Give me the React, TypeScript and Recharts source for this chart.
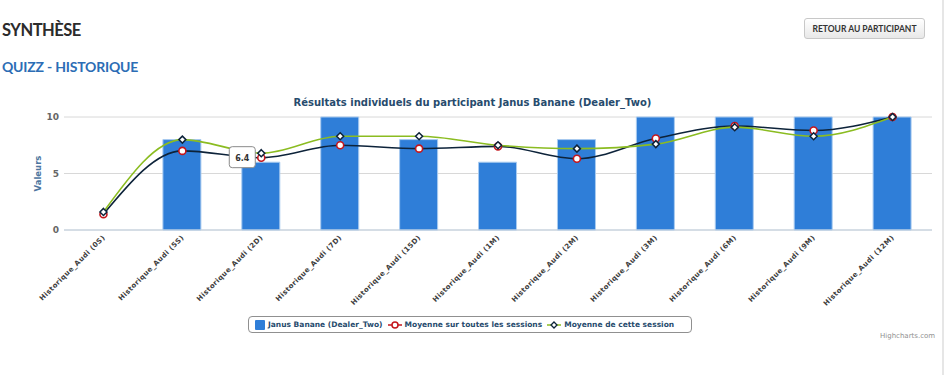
import { ComposedChart, Bar, Line, XAxis, YAxis, CartesianGrid, LabelList } from 'recharts'

const categories = [
  'Historique_Audi (0S)',
  'Historique_Audi (5S)',
  'Historique_Audi (2D)',
  'Historique_Audi (7D)',
  'Historique_Audi (15D)',
  'Historique_Audi (1M)',
  'Historique_Audi (2M)',
  'Historique_Audi (3M)',
  'Historique_Audi (6M)',
  'Historique_Audi (9M)',
  'Historique_Audi (12M)',
]
const participantScores = [0, 8, 6, 10, 8, 6, 8, 10, 10, 10, 10]
const allSessionsAvg = [1.4, 7.0, 6.4, 7.5, 7.2, 7.4, 6.3, 8.1, 9.2, 8.8, 10]
const thisSessionAvg = [1.6, 8.0, 6.8, 8.3, 8.3, 7.5, 7.2, 7.6, 9.1, 8.3, 10]
const yTicks = [0, 5, 10]
const seriesNames = ['Janus Banane (Dealer_Two)', 'Moyenne sur toutes les sessions', 'Moyenne de cette session']
const tooltipIndex = 2

const chartData = categories.map((name, i) => ({
  name,
  score: participantScores[i],
  allAvg: allSessionsAvg[i],
  sessionAvg: thisSessionAvg[i],
}))
const boundaries = [...categories.map((_, i) => i), categories.length]

const FONT = '"DejaVu Sans", Verdana, sans-serif'
const TITLE_COLOR = '#274b6d'

function XTick(props: any) {
  const { x, y, payload } = props
  return (
    <text
      x={x + 2}
      y={y}
      transform={`rotate(-45, ${x + 2}, ${y})`}
      textAnchor="end"
      fontFamily={FONT}
      fontWeight="bold"
      fontSize={7}
      letterSpacing={0.4}
      fill="#3d3d3d"
    >
      {payload.value}
    </text>
  )
}

function RedDot(props: any) {
  const { cx, cy } = props
  if (cx == null || cy == null) return null
  return <circle cx={cx} cy={cy} r={3.5} fill="#fff" stroke="#c4161c" strokeWidth={1.6} />
}

function DiamondDot(props: any) {
  const { cx, cy } = props
  if (cx == null || cy == null) return null
  const s = 3.5
  return (
    <path
      d={`M${cx},${cy - s}L${cx + s},${cy}L${cx},${cy + s}L${cx - s},${cy}Z`}
      fill="#fff"
      stroke="#0d233a"
      strokeWidth={1.5}
    />
  )
}

function TooltipLabel(props: any) {
  const { x, y, value, index } = props
  if (index !== tooltipIndex) return null
  return (
    <g>
      <rect x={x - 32} y={y - 11} width={26} height={21} rx={3} fill="#fff" stroke="#8a8a8a" strokeWidth={1} />
      <text x={x - 19} y={y + 3} textAnchor="middle" fontFamily={FONT} fontWeight="bold" fontSize={8} fill="#333">
        {value}
      </text>
    </g>
  )
}

const noTick = () => <g />

export default function App() {
  return (
    <div style={{ position: 'fixed', left: 0, top: 0, width: 945, height: 375, background: '#fff', overflow: 'hidden' }}>
      <div
        style={{
          position: 'absolute',
          left: 2,
          top: 20,
          fontFamily: 'Lato',
          fontWeight: 'bold',
          fontSize: 16.5,
          letterSpacing: -0.5,
          color: '#2b2b2b',
        }}
      >
        SYNTHÈSE
      </div>
      <div
        style={{
          position: 'absolute',
          left: 2,
          top: 58,
          fontFamily: 'Lato',
          fontWeight: 'bold',
          fontSize: 14,
          letterSpacing: -0.2,
          color: '#2c6db5',
        }}
      >
        QUIZZ - HISTORIQUE
      </div>
      <div
        style={{
          position: 'absolute',
          left: 804,
          top: 18,
          width: 119,
          height: 19,
          border: '1px solid #c8c8c8',
          borderRadius: 3,
          background: 'linear-gradient(#ffffff, #e8e8e8)',
          fontFamily: 'Lato',
          fontWeight: 'bold',
          fontSize: 8.5,
          color: '#333',
          display: 'flex',
          alignItems: 'center',
          justifyContent: 'center',
        }}
      >
        RETOUR AU PARTICIPANT
      </div>
      <div style={{ position: 'absolute', left: 942, top: 0, width: 2, height: 375, background: '#e6e6e6' }} />

      <div style={{ position: 'absolute', left: 0, top: 0 }}>
        <ComposedChart
          width={945}
          height={375}
          data={chartData}
          margin={{ top: 117, right: 13, left: 0, bottom: 55 }}
          barCategoryGap={0}
        >
          <CartesianGrid vertical={false} stroke="#d8d8d8" />
          <XAxis
            xAxisId="ticks"
            type="number"
            domain={[0, categories.length]}
            ticks={boundaries}
            height={0}
            axisLine={false}
            tickLine={{ stroke: '#c0d0e0' }}
            tickSize={5}
            tick={noTick}
            interval={0}
          />
          <XAxis
            dataKey="name"
            height={90}
            axisLine={{ stroke: '#c0d0e0' }}
            tickLine={false}
            tick={<XTick />}
            interval={0}
          />
          <YAxis
            width={64}
            domain={[0, 10]}
            ticks={yTicks}
            axisLine={false}
            tickLine={false}
            tickSize={0}
            tickMargin={5}
            tick={{ fontFamily: FONT, fontWeight: 'bold', fontSize: 9, fill: '#666' }}
            label={{
              value: 'Valeurs',
              angle: -90,
              position: 'insideLeft',
              offset: 38,
              style: { fontFamily: FONT, fontWeight: 'bold', fontSize: 8.5, fill: '#4d759e', textAnchor: 'middle' },
            }}
          />
          <Bar dataKey="score" name={seriesNames[0]} fill="#2f7ed8" stroke="#a9cbf0" strokeWidth={1} barSize={38} isAnimationActive={false} />
          <Line
            type="monotone"
            dataKey="allAvg"
            name={seriesNames[1]}
            stroke="#0d233a"
            strokeWidth={1.6}
            dot={<RedDot />}
            activeDot={false}
            isAnimationActive={false}
          >
            <LabelList dataKey="allAvg" content={<TooltipLabel />} />
          </Line>
          <Line
            type="monotone"
            dataKey="sessionAvg"
            name={seriesNames[2]}
            stroke="#8bbc21"
            strokeWidth={1.6}
            dot={<DiamondDot />}
            activeDot={false}
            isAnimationActive={false}
          />
        </ComposedChart>
      </div>

      <div
        style={{
          position: 'absolute',
          left: 0,
          width: 945,
          top: 97,
          textAlign: 'center',
          fontFamily: FONT,
          fontWeight: 'bold',
          fontSize: 10,
          color: TITLE_COLOR,
        }}
      >
        Résultats individuels du participant Janus Banane (Dealer_Two)
      </div>

      <div
        style={{
          position: 'absolute',
          left: 248,
          top: 316,
          width: 444,
          height: 17,
          border: '1px solid #909090',
          borderRadius: 4,
          display: 'flex',
          alignItems: 'center',
          gap: 5,
          paddingLeft: 6,
          boxSizing: 'border-box',
          fontFamily: FONT,
          fontWeight: 'bold',
          fontSize: 7.5,
          color: TITLE_COLOR,
          whiteSpace: 'nowrap',
        }}
      >
        <span style={{ display: 'flex', alignItems: 'center', gap: 3 }}>
          <svg width={10} height={10}>
            <rect x={0} y={0} width={10} height={10} rx={1} fill="#2f7ed8" />
          </svg>
          {seriesNames[0]}
        </span>
        <span style={{ display: 'flex', alignItems: 'center', gap: 3 }}>
          <svg width={14} height={10}>
            <line x1={0} y1={5} x2={14} y2={5} stroke="#c4161c" strokeWidth={1.5} />
            <circle cx={7} cy={5} r={3} fill="#fff" stroke="#c4161c" strokeWidth={1.5} />
          </svg>
          {seriesNames[1]}
        </span>
        <span style={{ display: 'flex', alignItems: 'center', gap: 3 }}>
          <svg width={14} height={10}>
            <line x1={0} y1={5} x2={14} y2={5} stroke="#8bbc21" strokeWidth={1.5} />
            <path d="M7,2L10,5L7,8L4,5Z" fill="#fff" stroke="#0d233a" strokeWidth={1.3} />
          </svg>
          {seriesNames[2]}
        </span>
      </div>

      <div style={{ position: 'absolute', left: 880, top: 332, fontFamily: FONT, fontSize: 7, color: '#909090' }}>
        Highcharts.com
      </div>
    </div>
  )
}
